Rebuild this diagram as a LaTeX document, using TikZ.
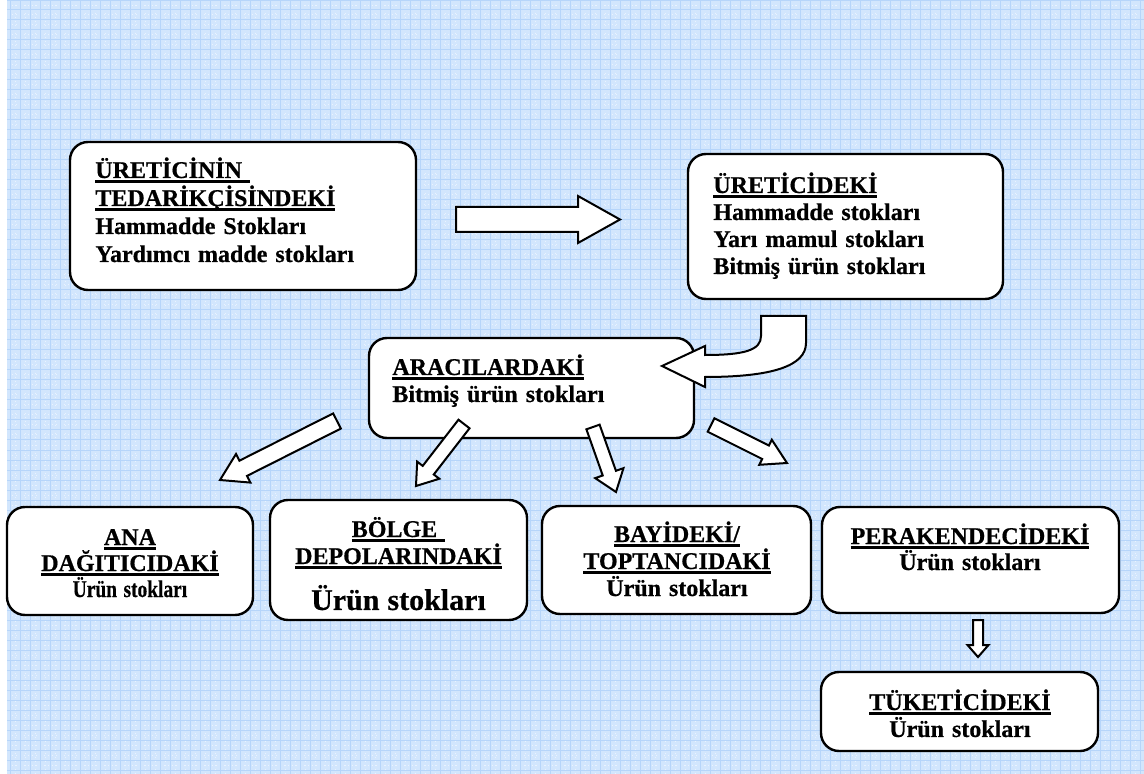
\documentclass[tikz,border=0pt]{standalone}
\usepackage{fontspec}
\setmainfont{Liberation Serif}[BoldFeatures={FakeBold=0.6}]
\usepackage{graphicx}
\usetikzlibrary{calc}

\definecolor{paper}{RGB}{210,230,253}
\definecolor{gridline}{RGB}{182,213,250}

% thick underline that also covers trailing spaces
\newsavebox\ulbox
\newcommand\ulx[1]{\leavevmode\sbox\ulbox{#1}\rlap{\rule[-2.5pt]{\wd\ulbox}{1.3pt}}\usebox\ulbox}

% block arrow: #1 tail, #2 tip, #3 shaft half width, #4 head half width, #5 head length
\newcommand\blockarrow[5]{%
  \coordinate (ba-b) at ($(#2)!#5!(#1)$);
  \draw[arrowbox] ($(#1)!#3!90:(#2)$) -- ($(ba-b)!#3!90:(#2)$) -- ($(ba-b)!#4!90:(#2)$)
    -- (#2) -- ($(ba-b)!#4!-90:(#2)$) -- ($(ba-b)!#3!-90:(#2)$) -- ($(#1)!#3!-90:(#2)$) -- cycle;}

\tikzset{
  box/.style={draw=black, line width=1.2pt, fill=white, rounded corners=9pt, inner sep=0pt},
  txt/.style={inner sep=0pt, font=\fontsize{12}{13.5}\selectfont\bfseries},
  txtl/.style={txt, align=left, anchor=base west},
  txtc/.style={txt, align=center, anchor=base},
  lead/.style={font=\fontsize{12}{#1}\selectfont\bfseries},
  arrowbox/.style={draw=black, line width=1pt, fill=white, line join=miter},
}

\begin{document}
% keep line distances exactly at the baseline skip
\lineskiplimit=-100pt
\begin{tikzpicture}[x=0.5pt, y=-0.5pt]
\useasboundingbox (0,0) rectangle (1144,774);

% squared paper background
\fill[white] (0,0) rectangle (1144,774);
\fill[paper] (7,0) rectangle (1144,774);
\draw[white, opacity=0.55, line width=0.5pt, dash pattern=on 0.5pt off 1.5pt, xshift=2.5pt, yshift=-2.5pt, step=5pt] (7,0) grid (1139,769);
\draw[gridline, line width=0.5pt, step=5pt] (7,0) grid (1144,774);

% boxes
\node[box, minimum width=173pt, minimum height=74pt] (b1) at (243,216) {};
\node[box, minimum width=157.5pt, minimum height=72.5pt] (b2) at (845.5,226.5) {};
\node[box, minimum width=162.5pt, minimum height=50pt] (b3) at (531.5,388) {};
\node[box, minimum width=123pt, minimum height=54pt] (b4) at (130,561) {};
\node[box, minimum width=128.5pt, minimum height=60pt] (b5) at (398.5,560) {};
\node[box, minimum width=134.5pt, minimum height=54pt] (b6) at (676.5,560) {};
\node[box, minimum width=148.5pt, minimum height=53pt] (b7) at (970.5,560) {};
\node[box, minimum width=138.5pt, minimum height=39.5pt] (b8) at (959.5,711.5) {};

% texts
\node[txtl, lead=14, text width=165pt] (t1) at (95,178)
  {\ulx{ÜRETİCİNİN\ }\\\ulx{TEDARİKÇİSİNDEKİ}\\Hammadde Stokları\\Yardımcı madde stokları};
\node[txtl, text width=140pt] (t2) at (713,193)
  {\ulx{ÜRETİCİDEKİ}\\Hammadde stokları\\Yarı mamul stokları\\Bitmiş ürün stokları};
\node[txtl, text width=150pt] (t3) at (392,375)
  {\ulx{ARACILARDAKİ}\\Bitmiş ürün stokları};
\node[txtc, lead=13, text width=120pt] (t4) at (130,545)
  {\ulx{ANA}\\\ulx{DAĞITICIDAKİ}\\\scalebox{0.81}[1]{Ürün stokları}};
\node[txtc, text width=125pt] (t5) at (398.5,537)
  {\ulx{BÖLGE\ }\\\ulx{DEPOLARINDAKİ}\\[7pt]{\fontsize{15}{13.5}\selectfont Ürün stokları}};
\node[txtc, text width=130pt] (t6) at (677,542)
  {\ulx{BAYİDEKİ/}\\\ulx{TOPTANCIDAKİ}\\Ürün stokları};
\node[txtc, lead=13, text width=145pt] (t7) at (970,544)
  {\ulx{PERAKENDECİDEKİ}\\Ürün stokları};
\node[txtc, lead=12, text width=135pt] (t8) at (960,710)
  {\ulx{TÜKETİCİDEKİ}\\Ürün stokları};

% arrow end points
\coordinate (r-tail) at (456,219.5);  \coordinate (r-tip) at (620,219.5);
\coordinate (a-tail) at (337,421);    \coordinate (a-tip) at (220,480);
\coordinate (c1-tail) at (464,424);   \coordinate (c1-tip) at (416,486);
\coordinate (c2-tail) at (593,427);   \coordinate (c2-tip) at (616,492);
\coordinate (d-tail) at (711,425);    \coordinate (d-tip) at (787,463);
\coordinate (s-tail) at (978,620);    \coordinate (s-tip) at (978,657);

% block arrows
\blockarrow{r-tail}{r-tip}{6.25pt}{11.75pt}{21pt}
\blockarrow{a-tail}{a-tip}{4.25pt}{8pt}{13pt}
\blockarrow{c1-tail}{c1-tip}{3.5pt}{7pt}{10pt}
\blockarrow{c2-tail}{c2-tip}{3.5pt}{7.5pt}{10pt}
\blockarrow{d-tail}{d-tip}{3.75pt}{7pt}{12pt}
\blockarrow{s-tail}{s-tip}{2.5pt}{5.25pt}{6pt}

% curved arrow from the producer box round to the intermediaries box
\draw[arrowbox] (761,316) -- (806,316) -- (806,343)
  .. controls (806,366) and (772,377) .. (705,377) -- (705,387) -- (662,366)
  -- (705,346) -- (705,355) .. controls (745,355) and (761,350) .. (761,336) -- cycle;
\end{tikzpicture}
\end{document}
